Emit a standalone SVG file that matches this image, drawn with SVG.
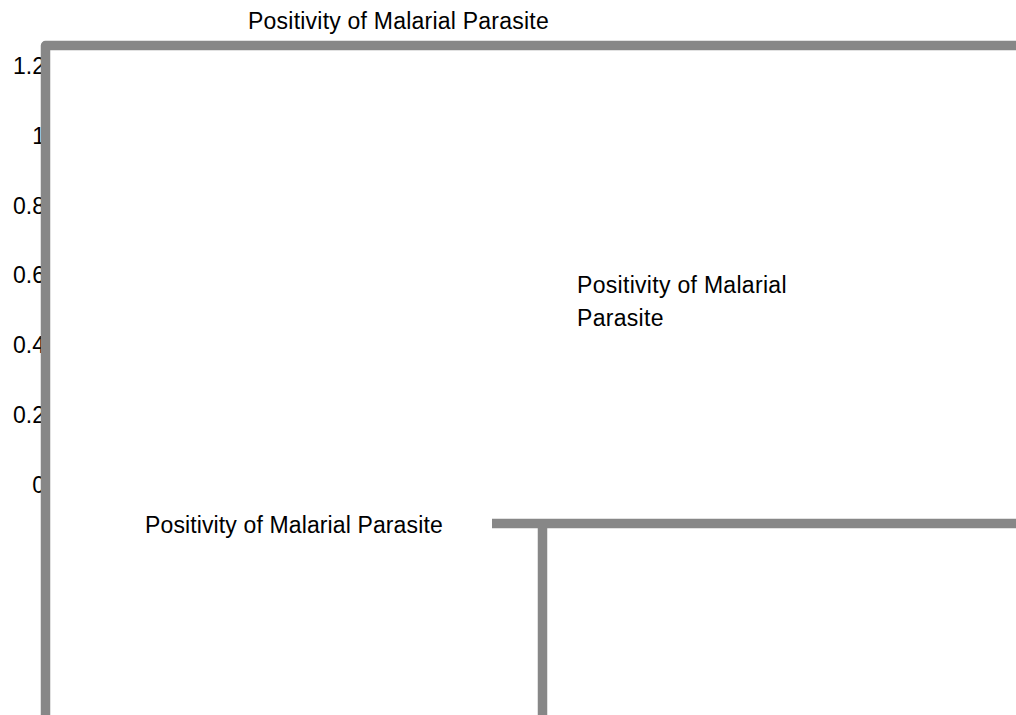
<svg xmlns="http://www.w3.org/2000/svg" width="1016" height="715" viewBox="0 0 1016 715">
<style>
text { font-family: "Liberation Sans", Arial, sans-serif; font-size: 23px; fill: #000; letter-spacing: 0.3px; }
.tick { text-anchor: end; letter-spacing: 0; }
.bar { fill: none; stroke: #878787; stroke-width: 9.5; stroke-linejoin: round; }
</style>
<rect width="1016" height="715" fill="#fff"/>
<g id="title"><text x="248" y="29" textLength="301">Positivity of Malarial Parasite</text></g>
<g id="ticks">
<text class="tick" x="45" y="74">1.2</text>
<text class="tick" x="45" y="144">1</text>
<text class="tick" x="45" y="214">0.8</text>
<text class="tick" x="45" y="283">0.6</text>
<text class="tick" x="45" y="353">0.4</text>
<text class="tick" x="45" y="423">0.2</text>
<text class="tick" x="45" y="493">0</text>
</g>
<g id="legend-mid"><text x="577" y="293">Positivity of Malarial</text><text x="577" y="326">Parasite</text></g>
<g id="legend-low"><text x="145" y="533" textLength="298">Positivity of Malarial Parasite</text></g>
<g id="bars">
<path class="bar" d="M45.5,715 V45.5 H1016"/>
<path class="bar" d="M492,523.5 H1016"/>
<path class="bar" d="M542.5,528 V715"/>
</g>
</svg>
